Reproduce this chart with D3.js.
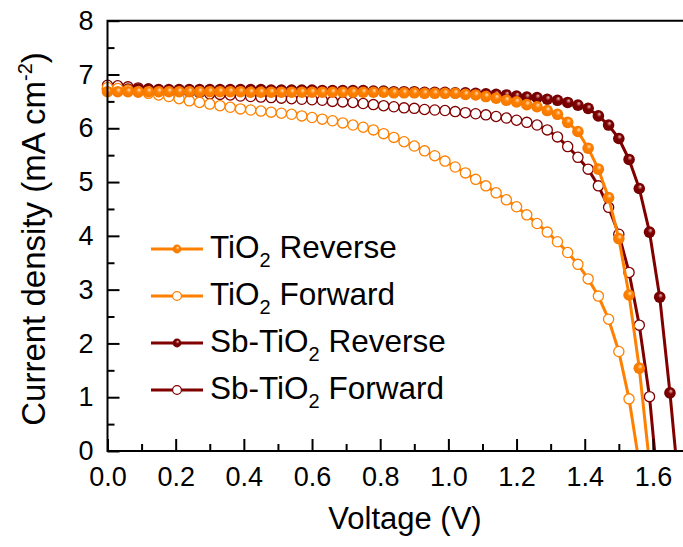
<!DOCTYPE html>
<html>
<head>
<meta charset="utf-8">
<script src="https://cdn.jsdelivr.net/npm/d3@7"></script>
<style>
  body { margin: 0; background: #fff; }
  svg { display: block; font-family: "Liberation Sans", Arial, sans-serif; }
</style>
</head>
<body>
<svg width="683" height="547"></svg>
<script>
// Voltage steps (V) shared by all sweeps
const voltage = [0.00, 0.03, 0.06, 0.09, 0.12, 0.15, 0.18, 0.21, 0.24, 0.27,
  0.30, 0.33, 0.36, 0.39, 0.42, 0.45, 0.48, 0.51, 0.54, 0.57,
  0.60, 0.63, 0.66, 0.69, 0.72, 0.75, 0.78, 0.81, 0.84, 0.87,
  0.90, 0.93, 0.96, 0.99, 1.02, 1.05, 1.08, 1.11, 1.14, 1.17,
  1.20, 1.23, 1.26, 1.29, 1.32, 1.35, 1.38, 1.41, 1.44, 1.47,
  1.50, 1.53, 1.56, 1.59, 1.62, 1.65, 1.68];

// Current density (mA cm-2)
const tio2Reverse = [6.68, 6.68, 6.68, 6.68, 6.68, 6.68, 6.68, 6.68, 6.68, 6.68,
  6.68, 6.68, 6.68, 6.68, 6.67, 6.67, 6.67, 6.67, 6.67, 6.67,
  6.67, 6.67, 6.67, 6.67, 6.67, 6.67, 6.67, 6.67, 6.66, 6.66,
  6.66, 6.65, 6.65, 6.65, 6.65, 6.63, 6.62, 6.59, 6.56, 6.52,
  6.49, 6.44, 6.40, 6.33, 6.26, 6.11, 5.94, 5.63, 5.24, 4.71,
  3.95, 2.90, 1.54, -0.23];

const tio2Forward = [6.76, 6.74, 6.71, 6.67, 6.65, 6.62, 6.59, 6.55, 6.51, 6.48,
  6.45, 6.42, 6.39, 6.36, 6.34, 6.32, 6.30, 6.28, 6.26, 6.23,
  6.20, 6.17, 6.14, 6.10, 6.06, 6.02, 5.97, 5.90, 5.83, 5.75,
  5.67, 5.58, 5.49, 5.39, 5.28, 5.17, 5.05, 4.93, 4.80, 4.67,
  4.54, 4.39, 4.23, 4.07, 3.89, 3.69, 3.47, 3.20, 2.88, 2.45,
  1.85, 0.97, -0.24];

const sbReverse = [6.73, 6.73, 6.73, 6.73, 6.73, 6.72, 6.72, 6.72, 6.72, 6.72,
  6.72, 6.72, 6.72, 6.72, 6.72, 6.72, 6.71, 6.71, 6.71, 6.71,
  6.71, 6.70, 6.70, 6.70, 6.70, 6.70, 6.69, 6.69, 6.68, 6.68,
  6.68, 6.67, 6.67, 6.67, 6.66, 6.66, 6.65, 6.64, 6.63, 6.62,
  6.60, 6.58, 6.57, 6.54, 6.52, 6.48, 6.43, 6.37, 6.23, 6.06,
  5.81, 5.42, 4.88, 4.07, 2.86, 1.08, -0.94];

const sbForward = [6.80, 6.79, 6.77, 6.75, 6.73, 6.71, 6.69, 6.68, 6.67, 6.66,
  6.64, 6.63, 6.62, 6.60, 6.59, 6.58, 6.57, 6.56, 6.55, 6.54,
  6.53, 6.52, 6.50, 6.49, 6.48, 6.46, 6.44, 6.42, 6.40, 6.38,
  6.37, 6.35, 6.34, 6.33, 6.31, 6.29, 6.27, 6.25, 6.22, 6.19,
  6.15, 6.11, 6.06, 5.97, 5.84, 5.66, 5.46, 5.24, 4.93, 4.53,
  4.03, 3.32, 2.34, 1.01, -1.01];

const xTicks = [0.0, 0.2, 0.4, 0.6, 0.8, 1.0, 1.2, 1.4, 1.6];
const xMinorTicks = [0.1, 0.3, 0.5, 0.7, 0.9, 1.1, 1.3, 1.5];
const yTicks = [0, 1, 2, 3, 4, 5, 6, 7, 8];
const yMinorTicks = [0.5, 1.5, 2.5, 3.5, 4.5, 5.5, 6.5, 7.5];

const orange = "#ff8000";
const wine = "#800000";

// legend order
const series = [
  {prefix: "TiO", suffix: " Reverse", values: tio2Reverse, color: orange, filled: true, grad: "gOrange"},
  {prefix: "TiO", suffix: " Forward", values: tio2Forward, color: orange, filled: false},
  {prefix: "Sb-TiO", suffix: " Reverse", values: sbReverse, color: wine, filled: true, grad: "gWine"},
  {prefix: "Sb-TiO", suffix: " Forward", values: sbForward, color: wine, filled: false}
];
// drawing order (bottom to top)
const drawOrder = [series[3], series[2], series[1], series[0]];

const plotLeft = 107.5, plotRight = 687, plotTop = 20.7, plotBottom = 451;

const svg = d3.select("svg");

const x = d3.scaleLinear().domain([0, 1.7]).range([plotLeft, plotRight]);
const y = d3.scaleLinear().domain([0, 8]).range([plotBottom, plotTop]);

const defs = svg.append("defs");
// clip only the part below the voltage axis; the V = 0 markers may poke past the left axis
defs.append("clipPath").attr("id", "plotClip")
    .append("rect")
    .attr("x", plotLeft - 10).attr("y", plotTop)
    .attr("width", plotRight - plotLeft + 10).attr("height", plotBottom - plotTop);

function shade(id, hi, base, edge) {
  const g = defs.append("radialGradient").attr("id", id)
      .attr("cx", "50%").attr("cy", "50%").attr("r", "55%")
      .attr("fx", "60%").attr("fy", "32%");
  g.append("stop").attr("offset", "0%").attr("stop-color", hi);
  g.append("stop").attr("offset", "38%").attr("stop-color", base);
  g.append("stop").attr("offset", "100%").attr("stop-color", edge);
}
shade("gOrange", "#ffe2c4", orange, "#f27800");
shade("gWine", "#e8c0c0", wine, "#700000");

const line = d3.line()
    .x(d => x(d.v))
    .y(d => y(d.j));

const plot = svg.append("g").attr("clip-path", "url(#plotClip)");

drawOrder.forEach(s => {
  const pts = s.values.map((j, i) => ({v: voltage[i], j: j}));
  const g = plot.append("g");
  g.append("path")
    .datum(pts)
    .attr("fill", "none")
    .attr("stroke", s.color)
    .attr("stroke-width", 3)
    .attr("stroke-linejoin", "round")
    .attr("d", line);
  g.selectAll("circle")
    .data(pts)
    .join("circle")
    .attr("cx", d => x(d.v))
    .attr("cy", d => y(d.j))
    .attr("r", s.filled ? 5.8 : 5.1)
    .attr("fill", s.filled ? `url(#${s.grad})` : "#fff")
    .attr("stroke", s.filled ? "none" : s.color)
    .attr("stroke-width", 1.3);
});

// Axes with inward ticks
function styleAxis(g) {
  g.select(".domain").remove();
  g.selectAll(".tick line").attr("stroke", "#000").attr("stroke-width", 2);
  g.selectAll(".tick text")
    .attr("fill", "#000")
    .attr("font-size", 27)
    .attr("font-family", "'Liberation Sans', Arial, sans-serif");
}

svg.append("g")
  .attr("transform", `translate(${plotLeft},0)`)
  .call(d3.axisLeft(y).tickValues(yTicks).tickSize(-12).tickPadding(14).tickFormat(d3.format("d")))
  .call(styleAxis);

svg.append("g")
  .attr("transform", `translate(${plotLeft},0)`)
  .call(d3.axisLeft(y).tickValues(yMinorTicks).tickSize(-7).tickFormat(""))
  .call(styleAxis);

svg.append("g")
  .attr("transform", `translate(0,${plotBottom})`)
  .call(d3.axisBottom(x).tickValues(xTicks).tickSize(-12).tickPadding(16).tickFormat(d3.format(".1f")))
  .call(styleAxis);

svg.append("g")
  .attr("transform", `translate(0,${plotBottom})`)
  .call(d3.axisBottom(x).tickValues(xMinorTicks).tickSize(-7).tickFormat(""))
  .call(styleAxis);

// frame: top, left, bottom
svg.append("path")
  .attr("d", `M${x(1.7)},${y(8)}H${x(0)}V${y(0)}H${x(1.7)}`)
  .attr("fill", "none")
  .attr("stroke", "#000")
  .attr("stroke-width", 2);

// Axis titles
svg.append("text")
  .attr("x", 405)
  .attr("y", 529)
  .attr("text-anchor", "middle")
  .attr("font-size", 31)
  .text("Voltage (V)");

const yTitle = svg.append("text")
  .attr("transform", "translate(45,239) rotate(-90)")
  .attr("text-anchor", "middle")
  .attr("font-size", 33);
yTitle.append("tspan").text("Current density (mA cm");
yTitle.append("tspan").attr("font-size", 20).attr("dy", -13).text("-2");
yTitle.append("tspan").attr("dy", 13).text(")");

// Legend
const legend = svg.append("g");
series.forEach((s, i) => {
  const ly = 249 + i * 47;
  legend.append("line")
    .attr("x1", 151).attr("x2", 203)
    .attr("y1", ly).attr("y2", ly)
    .attr("stroke", s.color).attr("stroke-width", 3);
  legend.append("circle")
    .attr("cx", 177).attr("cy", ly)
    .attr("r", 4.4)
    .attr("fill", s.filled ? `url(#${s.grad})` : "#fff")
    .attr("stroke", s.filled ? "none" : s.color)
    .attr("stroke-width", 1.2);
  const t = legend.append("text")
    .attr("x", 210).attr("y", ly + 9)
    .attr("font-size", 31.5);
  t.append("tspan").text(s.prefix);
  t.append("tspan").attr("font-size", 20).attr("dy", 9).text("2");
  t.append("tspan").attr("dy", -9).text(s.suffix);
});
</script>
</body>
</html>
